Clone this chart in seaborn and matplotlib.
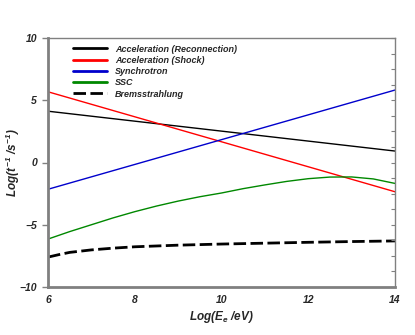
import numpy as np
import pandas as pd
import seaborn as sns
import matplotlib
matplotlib.use('Agg')
import matplotlib.pyplot as plt
from matplotlib.ticker import MultipleLocator

# values
x_lin = [6, 14]
reconnection = [4.12, 0.92]
shock = [5.68, -2.35]
synchrotron = [-2.15, 5.82]

x_ssc = [6, 6.5, 7, 7.5, 8, 8.5, 9, 9.5, 10, 10.5, 11, 11.5, 12, 12.5, 13, 13.5, 14]
ssc = [-6.15, -5.55, -5.0, -4.45, -3.95, -3.5, -3.1, -2.75, -2.45, -2.1, -1.8,
       -1.52, -1.3, -1.17, -1.16, -1.32, -1.68]

x_brems = [6, 6.25, 6.5, 7, 7.5, 8, 9, 10, 11, 12, 13, 14]
brems = [-7.6, -7.4, -7.22, -7.02, -6.88, -6.77, -6.64, -6.55, -6.48, -6.41, -6.35, -6.3]

labels = ['Acceleration (Reconnection)', 'Acceleration (Shock)', 'Synchrotron',
          'SSC', 'Bremsstrahlung']

sns.set_style('white')
plt.rcParams['font.family'] = ['Liberation Sans', 'DejaVu Sans']
plt.rcParams['mathtext.fontset'] = 'custom'
plt.rcParams['mathtext.it'] = 'Liberation Sans:italic:bold'
plt.rcParams['mathtext.rm'] = 'Liberation Sans:italic:bold'
plt.rcParams['mathtext.bf'] = 'Liberation Sans:italic:bold'

fig = plt.figure(figsize=(4.15, 3.35), dpi=100)
ax = fig.add_axes([48/415, 48/335, 347/415, 249/335])

sns.lineplot(x=x_lin, y=reconnection, color='black', lw=1.0, label=labels[0], ax=ax)
sns.lineplot(x=x_lin, y=shock, color='#ff0000', lw=1.0, label=labels[1], ax=ax)
sns.lineplot(x=x_lin, y=synchrotron, color='#0000cc', lw=1.0, label=labels[2], ax=ax)
sns.lineplot(x=x_ssc, y=ssc, color='#008800', lw=1.0, label=labels[3], ax=ax)
sns.lineplot(x=x_brems, y=brems, color='black', lw=2.0, label=labels[4], ax=ax)
ax.lines[-1].set_dashes([4.5, 1.6])

ax.set_xlim(6, 14)
ax.set_ylim(-10, 10)
ax.set_xticks([6, 8, 10, 12, 14])
ax.set_yticks([-10, -5, 0, 5, 10])
for lab in ax.get_xticklabels() + ax.get_yticklabels():
    lab.set_fontweight('bold')
    lab.set_fontstyle('italic')
    lab.set_fontsize(7.5)
ax.tick_params(axis='y', direction='out', length=4, width=1, color='#808080', pad=4)
ax.tick_params(axis='x', direction='inout', length=5, width=1, color='#808080', pad=3)

for side in ['left', 'bottom']:
    ax.spines[side].set_color('#808080')
    ax.spines[side].set_linewidth(2.0)
for side in ['top', 'right']:
    ax.spines[side].set_color('#808080')
    ax.spines[side].set_linewidth(1.0)

ax2 = ax.twinx()
ax2.set_ylim(-10, 10)
ax2.yaxis.set_major_locator(MultipleLocator(1.25))
ax2.tick_params(axis='y', direction='in', length=3, width=0.8, color='#808080', labelright=False)
for s in ax2.spines.values():
    s.set_visible(False)

ax.set_xlabel(r'$Log(E_e\ /eV)$', fontsize=8.5)
ax.set_ylabel(r'$Log(t^{-1}\ /s^{-1})$', fontsize=8.5)
ax.xaxis.set_label_coords(0.5, -0.088)
ax.yaxis.set_label_coords(-0.076, 0.502)

leg = ax.legend(loc='upper left', bbox_to_anchor=(0.05, 1.006), frameon=False,
                handlelength=3.7, handletextpad=0.9, labelspacing=0.25,
                prop={'family': 'Liberation Sans', 'weight': 'bold', 'style': 'italic', 'size': 6.5})
for h in leg.get_lines():
    h.set_linewidth(2.0)

fig.savefig('out.png', dpi=100)
